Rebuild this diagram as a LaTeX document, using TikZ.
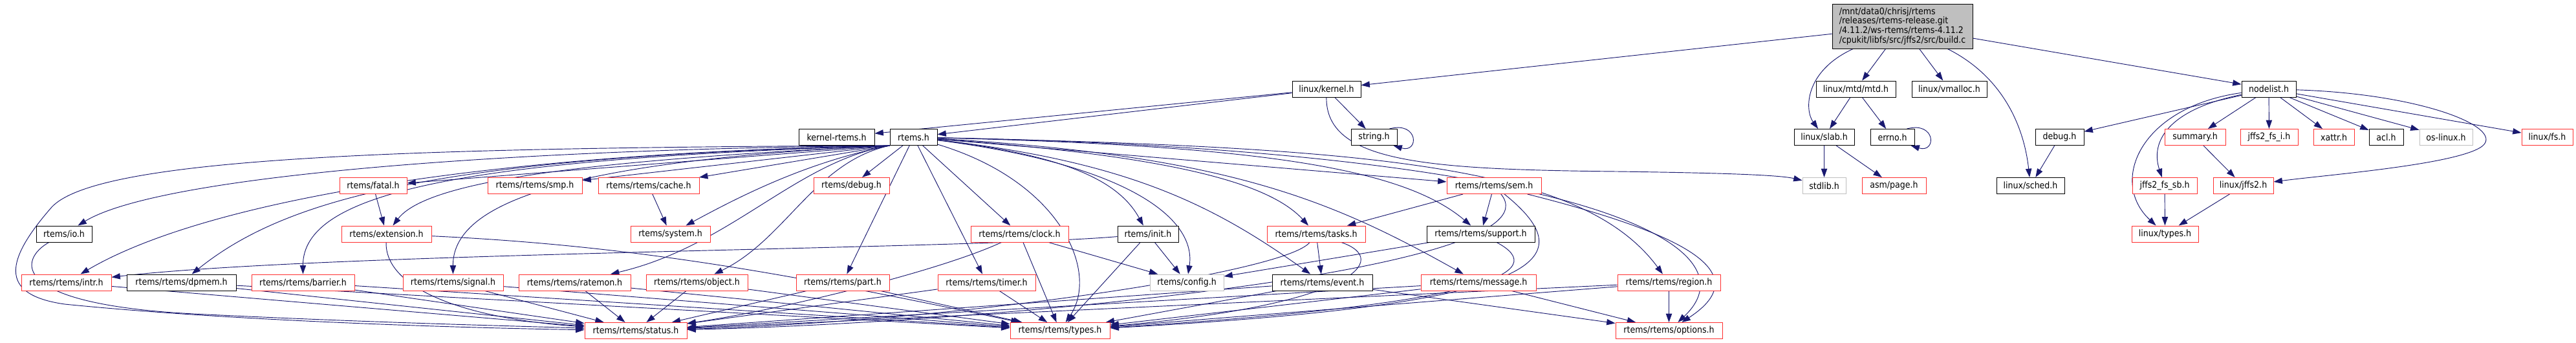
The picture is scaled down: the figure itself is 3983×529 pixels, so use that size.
\documentclass[tikz,border=0pt]{standalone}
\usepackage{fontspec}
\setmainfont{DejaVu Sans Condensed}
\usetikzlibrary{arrows.meta,backgrounds}
\newdimen\pxu \pxu=0.75pt
\definecolor{edgeblue}{HTML}{191970}
\definecolor{hred}{HTML}{FF3030}
\definecolor{hgray}{HTML}{BFBFBF}
\begin{document}
\begin{tikzpicture}[x=0.75pt,y=-0.75pt,
  hdr/.style={draw=black, fill=white, line width=0.75pt, minimum width=#1\pxu,
    minimum height=25\pxu, inner sep=0pt, font=\fontsize{10.5}{12}\selectfont},
  trunc/.style={draw=hred},
  undoc/.style={draw=hgray},
  dep/.style={draw=edgeblue, line width=0.7pt, -{Triangle[length=10pt,width=7pt]}}]
  \useasboundingbox (0,0) rectangle (3983,529);
  % source file
  \node[hdr=217, minimum height=69\pxu, fill=hgray, align=left,
    font=\fontsize{10.5}{11.1}\selectfont] (root) at (2941.5,40.5)
    {/mnt/data0/chrisj/rtems\\/releases/rtems-release.git\\/4.11.2/ws-rtems/rtems-4.11.2\\/cpukit/libfs/src/jffs2/src/build.c};
  % row 1
  \node[hdr=106] (lkernel) at (2051,137.5) {linux/kernel.h};
  \node[hdr=123] (mtd) at (2869.5,137.5) {linux/mtd/mtd.h};
  \node[hdr=116] (vmalloc) at (3014,137.5) {linux/vmalloc.h};
  \node[hdr=84] (nodelist) at (3508,137.5) {nodelist.h};
  % row 2
  \node[hdr=117] (kernelrtems) at (1293.5,212) {kernel-rtems.h};
  \node[hdr=73] (rtemsh) at (1412.5,212) {rtems.h};
  \node[hdr=71] (string) at (2124.5,212) {string.h};
  \node[hdr=93] (slab) at (2820.5,212) {linux/slab.h};
  \node[hdr=68] (errno) at (2926,212) {errno.h};
  \node[hdr=75] (debugh) at (3184.5,212) {debug.h};
  \node[hdr=94, trunc] (summary) at (3394,212) {summary.h};
  \node[hdr=89, trunc] (fsi) at (3508.5,212) {jffs2\_fs\_i.h};
  \node[hdr=63, trunc] (xattr) at (3608.5,212) {xattr.h};
  \node[hdr=53] (acl) at (3689.5,212) {acl.h};
  \node[hdr=82, undoc] (oslinux) at (3782,212) {os-linux.h};
  \node[hdr=79, trunc] (linuxfs) at (3938.5,212) {linux/fs.h};
  % row 3
  \node[hdr=104, trunc] (fatal) at (577,287) {rtems/fatal.h};
  \node[hdr=146, trunc] (smp) at (827,287) {rtems/rtems/smp.h};
  \node[hdr=156, trunc] (cache) at (1003,287) {rtems/rtems/cache.h};
  \node[hdr=117, trunc] (rdebug) at (1316.5,287) {rtems/debug.h};
  \node[hdr=146, trunc] (sem) at (2310,287) {rtems/rtems/sem.h};
  \node[hdr=67, undoc] (stdlib) at (2820.5,287) {stdlib.h};
  \node[hdr=99, trunc] (page) at (2928.5,287) {asm/page.h};
  \node[hdr=105] (sched) at (3139.5,287) {linux/sched.h};
  \node[hdr=100, trunc] (fssb) at (3347,287) {jffs2\_fs\_sb.h};
  \node[hdr=93, trunc] (ljffs2) at (3468.5,287) {linux/jffs2.h};
  % row 4
  \node[hdr=86] (io) at (99,361.5) {rtems/io.h};
  \node[hdr=139, trunc] (extension) at (597.5,361.5) {rtems/extension.h};
  \node[hdr=123, trunc] (system) at (1036.5,361.5) {rtems/system.h};
  \node[hdr=151, trunc] (clock) at (1576.5,361.5) {rtems/rtems/clock.h};
  \node[hdr=94] (init) at (1775,361.5) {rtems/init.h};
  \node[hdr=152, trunc] (tasks) at (2035,361.5) {rtems/rtems/tasks.h};
  \node[hdr=167] (support) at (2289.5,361.5) {rtems/rtems/support.h};
  \node[hdr=103, trunc] (ltypes) at (3347.5,361.5) {linux/types.h};
  % row 5
  \node[hdr=139, trunc] (intr) at (102.5,436.5) {rtems/rtems/intr.h};
  \node[hdr=169] (dpmem) at (280.5,436.5) {rtems/rtems/dpmem.h};
  \node[hdr=159, trunc] (barrier) at (468.5,436.5) {rtems/rtems/barrier.h};
  \node[hdr=155, trunc] (signal) at (700.5,436.5) {rtems/rtems/signal.h};
  \node[hdr=173, trunc] (ratemon) at (888.5,436.5) {rtems/rtems/ratemon.h};
  \node[hdr=157, trunc] (object) at (1077.5,436.5) {rtems/rtems/object.h};
  \node[hdr=144, trunc] (part) at (1303,436.5) {rtems/rtems/part.h};
  \node[hdr=151, trunc] (timer) at (1525.5,436.5) {rtems/rtems/timer.h};
  \node[hdr=114, undoc] (config) at (1835,436.5) {rtems/config.h};
  \node[hdr=155] (event) at (2044.5,436.5) {rtems/rtems/event.h};
  \node[hdr=178, trunc] (message) at (2286,436.5) {rtems/rtems/message.h};
  \node[hdr=159, trunc] (region) at (2580.5,436.5) {rtems/rtems/region.h};
  % row 6
  \node[hdr=158, trunc] (status) at (983,511) {rtems/rtems/status.h};
  \node[hdr=154, trunc] (types) at (1639,511) {rtems/rtems/types.h};
  \node[hdr=165, trunc] (options) at (2580.5,511) {rtems/rtems/options.h};

  \begin{pgfonlayer}{background}
  % build.c
  \draw[dep] (root) -- (lkernel);
  \draw[dep] (root) -- (mtd);
  \draw[dep] (root) -- (vmalloc);
  \draw[dep] (root) .. controls (2790,110) and (2790,170) .. (slab);
  \draw[dep] (root) .. controls (3100,120) and (3130,200) .. (sched);
  \draw[dep] (root) -- (nodelist);
  % linux side
  \draw[dep] (lkernel) -- (kernelrtems);
  \draw[dep] (lkernel) -- (rtemsh);
  \draw[dep] (lkernel) -- (string);
  \draw[dep] (lkernel) .. controls (2050,250) and (2200,262) .. (2500,265)
    .. controls (2650,267) and (2750,270) .. (stdlib);
  \draw[dep] ([xshift=-12\pxu]string.north east) .. controls +(45,-12) and +(40,12) .. ([xshift=-6\pxu]string.south east);
  \draw[dep] (mtd) -- (slab);
  \draw[dep] (mtd) -- (errno);
  \draw[dep] ([xshift=-12\pxu]errno.north east) .. controls +(45,-12) and +(40,12) .. ([xshift=-6\pxu]errno.south east);
  \draw[dep] (slab) -- (stdlib);
  \draw[dep] (slab) -- (page);
  \draw[dep] (debugh) -- (sched);
  % nodelist.h
  \draw[dep] (nodelist) -- (debugh);
  \draw[dep] (nodelist) -- (summary);
  \draw[dep] (nodelist) -- (fsi);
  \draw[dep] (nodelist) -- (xattr);
  \draw[dep] (nodelist) -- (acl);
  \draw[dep] (nodelist) -- (oslinux);
  \draw[dep] (nodelist) -- (linuxfs);
  \draw[dep] (nodelist) .. controls (3350,170) and (3325,220) .. (fssb);
  \draw[dep] (nodelist) .. controls (3310,165) and (3260,280) .. (ltypes);
  \draw[dep] (nodelist) .. controls (3750,145) and (3880,200) .. (3835,228)
    .. controls (3790,255) and (3600,270) .. (ljffs2);
  \draw[dep] (summary) -- (ljffs2);
  \draw[dep] (fssb) -- (ltypes);
  \draw[dep] (ljffs2) -- (ltypes);
  % rtems.h, left fan
  \draw[dep] (rtemsh.south west) .. controls (600,228) and (150,245) .. (80,320)
    .. controls (10,400) and (-5,455) .. (100,470) .. controls (400,500) and (800,508) .. (status);
  \draw[dep] (rtemsh.south west) .. controls (800,230) and (250,270) .. (io);
  \draw[dep] (rtemsh.south west) .. controls (700,238) and (300,320) .. (intr);
  \draw[dep] (rtemsh.south west) .. controls (700,242) and (450,300) .. (dpmem);
  \draw[dep] (rtemsh.south west) .. controls (700,246) and (468,300) .. (barrier);
  \draw[dep] (rtemsh.south west) -- (fatal);
  \draw[dep] (rtemsh.south west) .. controls (900,248) and (660,280) .. (extension);
  \draw[dep] (rtemsh.south west) .. controls (850,250) and (700,320) .. (signal);
  \draw[dep] (rtemsh.south west) -- (smp);
  \draw[dep] (rtemsh.south west) -- (cache);
  \draw[dep] (rtemsh.south west) .. controls (1250,250) and (1150,300) .. (system);
  \draw[dep] (rtemsh.south west) .. controls (1230,250) and (1130,380) .. (ratemon);
  \draw[dep] (rtemsh.south west) .. controls (1260,250) and (1215,370) .. (object);
  \draw[dep] (rtemsh) -- (rdebug);
  \draw[dep] (rtemsh) -- (part);
  \draw[dep] (rtemsh) -- (timer);
  \draw[dep] (rtemsh) -- (clock);
  % rtems.h, right fan
  \draw[dep] (rtemsh) .. controls (1640,280) and (1700,420) .. (types);
  \draw[dep] (rtemsh) .. controls (1650,240) and (1730,280) .. (init);
  \draw[dep] (rtemsh) .. controls (1750,255) and (1850,340) .. (config);
  \draw[dep] (rtemsh) .. controls (1800,240) and (1960,280) .. (tasks);
  \draw[dep] (rtemsh) .. controls (1750,250) and (1880,320) .. (event);
  \draw[dep] (rtemsh) .. controls (1900,240) and (2060,310) .. (message);
  \draw[dep] (rtemsh) .. controls (1950,225) and (2170,260) .. (support);
  \draw[dep] (rtemsh) -- (sem);
  \draw[dep] (rtemsh) .. controls (2150,228) and (2450,260) .. (region);
  \draw[dep] (rtemsh) .. controls (2450,232) and (2720,380) .. (options);
  % rtems/rtems headers
  \draw[dep] (fatal) -- (extension);
  \draw[dep] (cache) -- (system);
  \draw[dep] (sem) -- (tasks);
  \draw[dep] (sem) -- (support);
  \draw[dep] (sem) .. controls (2450,400) and (2400,470) .. (types);
  \draw[dep] (sem) .. controls (2420,420) and (1500,500) .. (status);
  \draw[dep] (sem) .. controls (2600,360) and (2720,420) .. (options);
  \draw[dep] (tasks) -- (event);
  \draw[dep] (tasks) .. controls (1990,420) and (1500,495) .. (status);
  \draw[dep] (tasks) .. controls (2150,400) and (2100,470) .. (types);
  \draw[dep] (support) -- (config);
  \draw[dep] (support) .. controls (2400,420) and (2300,470) .. (types);
  \draw[dep] (init) .. controls (1500,385) and (500,390) .. (intr);
  \draw[dep] (init) -- (config);
  \draw[dep] (init) -- (types);
  \draw[dep] (clock) .. controls (1450,420) and (1200,480) .. (status);
  \draw[dep] (clock) -- (types);
  \draw[dep] (clock) -- (config);
  \draw[dep] (io) .. controls (30,400) and (10,470) .. (300,485)
    .. controls (600,500) and (850,505) .. (status);
  \draw[dep] (extension) .. controls (595,440) and (700,490) .. (status);
  \draw[dep] (extension) .. controls (1000,380) and (1250,430) .. (types);
  \draw[dep] (intr) -- (status);
  \foreach \h in {dpmem,barrier,signal,ratemon,object,part,timer,event,message,region}{
    \draw[dep] (\h) -- (status);
    \draw[dep] (\h) -- (types);
  }
  \draw[dep] (event) -- (options);
  \draw[dep] (message) -- (options);
  \draw[dep] (region) -- (options);
  \end{pgfonlayer}
\end{tikzpicture}
\end{document}
